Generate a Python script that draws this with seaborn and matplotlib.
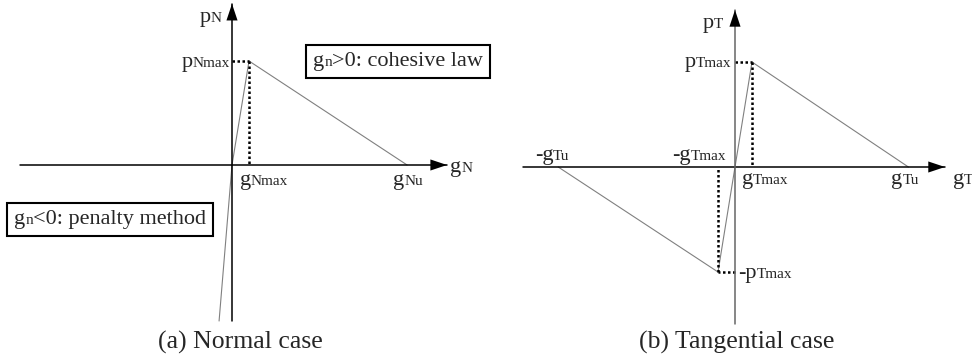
import matplotlib
matplotlib.use("Agg")
import matplotlib.pyplot as plt
import seaborn as sns
import pandas as pd
from matplotlib.offsetbox import TextArea, HPacker, AnnotationBbox

# traction-separation laws, in units of g_max / p_max
normal_gap = [-0.76, 0.0, 1.0, 10.3]
normal_traction = [-1.5, 0.0, 1.0, 0.0]

tangential_gap = [-10.4, -1.0, 1.0, 10.2]
tangential_traction = [0.0, -1.0, 1.0, 0.0]

g_max = 1.0
p_max = 1.0

captions = ["(a) Normal case", "(b) Tangential case"]
cohesive_text = ["g", "n", ">0: cohesive law"]
penalty_text = ["g", "n", "<0: penalty method"]

BIG = 16
SMALL = 11
CAPTION = 18.5

sns.set_style("white")
plt.rcParams["font.family"] = ["Liberation Serif", "DejaVu Serif"]


def axis_arrow(ax, start, tip, color="black"):
    # shaft in the given colour, filled black head at the tip
    ax.plot([start[0], tip[0]], [start[1], tip[1]], color=color, lw=1.1)
    ax.annotate("", xy=tip, xytext=start,
                arrowprops=dict(arrowstyle="-|>,head_length=0.6,head_width=0.2",
                                mutation_scale=20, lw=0, color="black",
                                shrinkA=0, shrinkB=0))


def sub_label(ax, xy, big, small, dx, dy):
    # big letter ends where the small letters start, same baseline
    ax.annotate(big, xy=xy, xytext=(dx, dy), textcoords="offset pixels",
                ha="right", va="baseline", fontsize=BIG)
    ax.annotate(small, xy=xy, xytext=(dx, dy), textcoords="offset pixels",
                ha="left", va="baseline", fontsize=SMALL)


def boxed(ax, xy, parts):
    areas = [TextArea(s, textprops=dict(fontsize=sz))
             for s, sz in zip(parts, (BIG, SMALL, BIG))]
    pack = HPacker(children=areas, align="baseline", pad=0, sep=0)
    ab = AnnotationBbox(pack, xy, xycoords="axes fraction", box_alignment=(0, 1),
                        frameon=True, pad=0.3, fontsize=BIG,
                        bboxprops=dict(edgecolor="black", lw=1.5))
    ax.add_artist(ab)


def dotted(ax, xs, ys):
    ax.plot(xs, ys, color="black", lw=1.8, linestyle=(0, (1, 1)))


fig = plt.figure(figsize=(9.72, 3.6), dpi=100)
ax1 = fig.add_axes([0, 0, 0.5, 1])
ax2 = fig.add_axes([0.5, 0, 0.5, 1])

# ---- (a) normal case
df_n = pd.DataFrame({"g": normal_gap, "p": normal_traction})
sns.lineplot(data=df_n, x="g", y="p", sort=False, estimator=None,
             color="0.5", lw=0.8, ax=ax1)
dotted(ax1, [0, g_max], [p_max, p_max])
dotted(ax1, [g_max, g_max], [p_max, 0])
axis_arrow(ax1, (-12.47, 0), (12.65, 0))
axis_arrow(ax1, (0, -1.5), (0, 1.55))
ax1.set_xlim(-232 / 17, 254 / 17)
ax1.set_ylim(-195 / 104, 165 / 104)

sub_label(ax1, (0, 1.55), "p", "N", -21, -18)
sub_label(ax1, (0, p_max), "p", "Nmax", -39, -6)
sub_label(ax1, (g_max, 0), "g", "Nmax", 2, -20)
sub_label(ax1, (normal_gap[-1], 0), "g", "Nu", -3, -20)
sub_label(ax1, (12.65, 0), "g", "N", 14, -7)
boxed(ax1, (313 / 486, 1 - 52 / 360), cohesive_text)
boxed(ax1, (14 / 486, 1 - 210 / 360), penalty_text)

# ---- (b) tangential case
df_t = pd.DataFrame({"g": tangential_gap, "p": tangential_traction})
sns.lineplot(data=df_t, x="g", y="p", sort=False, estimator=None,
             color="0.5", lw=0.8, ax=ax2)
dotted(ax2, [0, g_max], [p_max, p_max])
dotted(ax2, [g_max, g_max], [p_max, 0])
dotted(ax2, [0, -g_max], [-p_max, -p_max])
dotted(ax2, [-g_max, -g_max], [-p_max, 0])
axis_arrow(ax2, (-12.47, 0), (12.35, 0))
axis_arrow(ax2, (0, -1.495), (0, 1.495), color="0.4")
ax2.set_xlim(-249 / 17, 237 / 17)
ax2.set_ylim(-193 / 105, 167 / 105)

sub_label(ax2, (0, 1.495), "p", "T", -21, -18)
sub_label(ax2, (0, p_max), "p", "Tmax", -39, -5)
sub_label(ax2, (tangential_gap[0], 0), "-g", "Tu", -5, 7)
sub_label(ax2, (-g_max, 0), "-g", "Tmax", -27, 7)
sub_label(ax2, (g_max, 0), "g", "Tmax", 1, -17)
sub_label(ax2, (tangential_gap[-1], 0), "g", "Tu", -6, -17)
sub_label(ax2, (12.35, 0), "g", "T", 19, -17)
sub_label(ax2, (0, -p_max), "-p", "Tmax", 22, -6)

for ax in (ax1, ax2):
    ax.set_axis_off()

fig.text(240 / 972, 11 / 360, captions[0], ha="center", va="baseline", fontsize=CAPTION)
fig.text(737 / 972, 11 / 360, captions[1], ha="center", va="baseline", fontsize=CAPTION)

fig.savefig("out.png", dpi=100)
